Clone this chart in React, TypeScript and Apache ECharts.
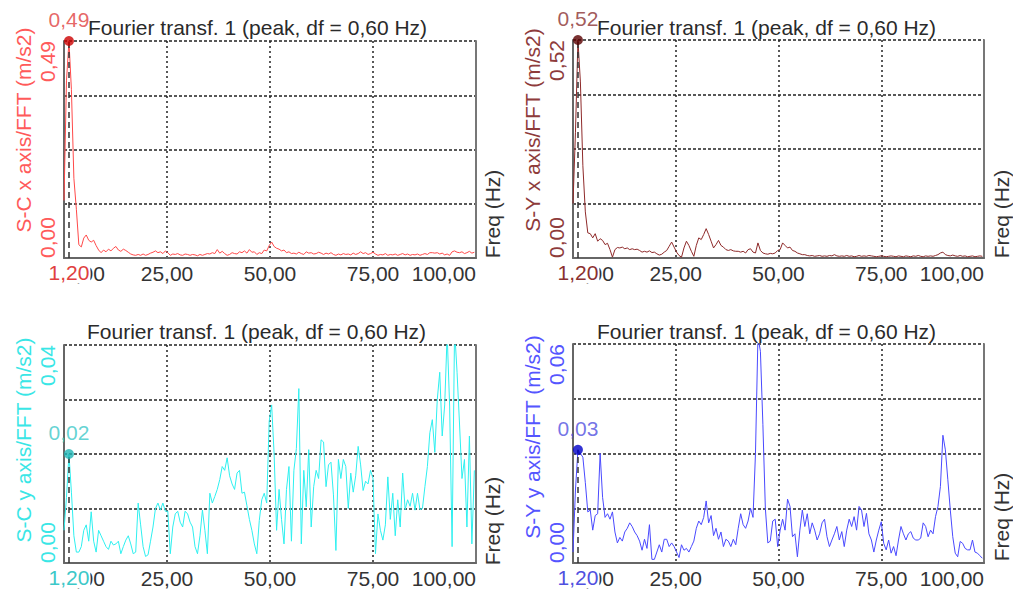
import React, { useEffect, useRef } from "react";
import * as echarts from "echarts";

// ---------- data ----------
const DF = 0.6; // frequency resolution (Hz) – bin k is at k * DF
const X_MIN = 0;
const X_MAX = 100;
const X_INTERVAL = 25;
const TITLE = "Fourier transf. 1 (peak, df = 0,60 Hz)";
const X_NAME = "Freq (Hz)";
const Y_NAMES = [
  "S-C x axis/FFT (m/s2)",
  "S-Y x axis/FFT (m/s2)",
  "S-C y axis/FFT (m/s2)",
  "S-Y y axis/FFT (m/s2)",
];
const Y_MAX = [0.49, 0.52, 0.04, 0.06];
const PEAK_FREQ = [1.2, 1.2, 1.2, 1.2];
const PEAK_VAL = [0.49, 0.52, 0.02, 0.031];

const scX = [
  0.13, 0.40, 0.49, 0.38, 0.18, 0.11, 0.03, 0.025, 0.045, 0.052,
  0.04, 0.036, 0.04, 0.028, 0.018, 0.012, 0.018, 0.014, 0.02, 0.016,
  0.022, 0.026, 0.018, 0.015, 0.02, 0.017, 0.013, 0.009, 0.007, 0.006,
  0.008, 0.006, 0.009, 0.006, 0.008, 0.011, 0.013, 0.016, 0.012, 0.014,
  0.01, 0.016, 0.012, 0.006, 0.009, 0.008, 0.01, 0.007, 0.006, 0.009,
  0.008, 0.006, 0.008, 0.007, 0.005, 0.008, 0.006, 0.008, 0.01, 0.009,
  0.012, 0.01, 0.019, 0.011, 0.015, 0.01, 0.006, 0.008, 0.012, 0.01,
  0.009, 0.014, 0.012, 0.016, 0.011, 0.019, 0.013, 0.014, 0.008, 0.012,
  0.01, 0.018, 0.016, 0.028, 0.036, 0.026, 0.022, 0.02, 0.016, 0.018,
  0.012, 0.014, 0.01, 0.011, 0.009, 0.013, 0.01, 0.008, 0.014, 0.011,
  0.012, 0.009, 0.01, 0.013, 0.011, 0.008, 0.011, 0.009, 0.012, 0.008,
  0.006, 0.009, 0.007, 0.01, 0.008, 0.009, 0.007, 0.011, 0.008, 0.01,
  0.014, 0.01, 0.012, 0.008, 0.01, 0.013, 0.009, 0.006, 0.008, 0.007,
  0.01, 0.006, 0.008, 0.007, 0.009, 0.006, 0.008, 0.01, 0.007, 0.009,
  0.006, 0.008, 0.007, 0.009, 0.006, 0.008, 0.01, 0.008, 0.012, 0.012,
  0.011, 0.012, 0.009, 0.011, 0.007, 0.009, 0.006, 0.014, 0.016, 0.013,
  0.012, 0.014, 0.01, 0.012, 0.015, 0.011, 0.013,
];

const syX = [
  0.13, 0.30, 0.52, 0.42, 0.22, 0.11, 0.06, 0.058, 0.048, 0.058,
  0.04, 0.046, 0.042, 0.032, 0.035, 0.02, 0.002, 0.02, 0.025, 0.024,
  0.026, 0.022, 0.024, 0.02, 0.022, 0.02, 0.021, 0.018, 0.014, 0.016,
  0.014, 0.017, 0.013, 0.014, 0.01, 0.007, 0.009, 0.014, 0.018, 0.028,
  0.038, 0.026, 0.014, 0.006, 0.002, 0.024, 0.04, 0.03, 0.016, 0.004,
  0.03, 0.048, 0.044, 0.056, 0.07, 0.056, 0.04, 0.024, 0.032, 0.042,
  0.03, 0.026, 0.02, 0.018, 0.02, 0.017, 0.016, 0.016, 0.014, 0.016,
  0.012, 0.02, 0.022, 0.014, 0.012, 0.036, 0.018, 0.012, 0.01, 0.009,
  0.011, 0.01, 0.012, 0.018, 0.02, 0.036, 0.03, 0.024, 0.026, 0.018,
  0.016, 0.012, 0.01, 0.008, 0.008, 0.006, 0.005, 0.006, 0.004, 0.005,
  0.006, 0.004, 0.005, 0.004, 0.006, 0.005, 0.008, 0.005, 0.004, 0.005,
  0.004, 0.006, 0.004, 0.005, 0.003, 0.004, 0.006, 0.004, 0.005, 0.004,
  0.006, 0.005, 0.004, 0.003, 0.004, 0.005, 0.004, 0.003, 0.004, 0.005,
  0.004, 0.003, 0.005, 0.004, 0.003, 0.005, 0.004, 0.003, 0.005, 0.004,
  0.006, 0.004, 0.003, 0.005, 0.004, 0.005, 0.004, 0.006, 0.008, 0.012,
  0.014, 0.008, 0.006, 0.005, 0.007, 0.005, 0.004, 0.006, 0.004, 0.005,
  0.003, 0.004, 0.005, 0.003, 0.004, 0.005, 0.004,
];

const scY = [
  0.006, 0.012, 0.02, 0.013, 0.005, 0.002, 0.002, 0.003, 0.006, 0.007,
  0.004, 0.0094, 0.004, 0.002, 0.006, 0.005, 0.004, 0.003, 0.0025, 0.004,
  0.0033, 0.0035, 0.004, 0.0017, 0.003, 0.0042, 0.005, 0.0035, 0.0017, 0.002,
  0.011, 0.007, 0.003, 0.0012, 0.0015, 0.004, 0.0066, 0.01, 0.011, 0.0097,
  0.011, 0.0095, 0.0095, 0.0017, 0.0066, 0.009, 0.0095, 0.0075, 0.0066, 0.0095,
  0.009, 0.0075, 0.0066, 0.003, 0.0017, 0.005, 0.0097, 0.006, 0.0017, 0.0128,
  0.011, 0.0122, 0.0135, 0.0153, 0.0177, 0.017, 0.0193, 0.016, 0.0145, 0.0135,
  0.0165, 0.017, 0.0128, 0.013, 0.0105, 0.008, 0.006, 0.0035, 0.0017, 0.0078,
  0.0116, 0.0128, 0.011, 0.026, 0.029, 0.02, 0.006, 0.0135, 0.008, 0.0035,
  0.0135, 0.0177, 0.004, 0.017, 0.021, 0.032, 0.0035, 0.017, 0.0103, 0.0208,
  0.0066, 0.014, 0.017, 0.0155, 0.0226, 0.0222, 0.014, 0.018, 0.0185, 0.0125,
  0.0023, 0.019, 0.0155, 0.019, 0.0177, 0.01, 0.0165, 0.013, 0.016, 0.0214,
  0.018, 0.0133, 0.015, 0.0145, 0.017, 0.0155, 0.0017, 0.009, 0.006, 0.0042,
  0.007, 0.0158, 0.008, 0.0128, 0.005, 0.0116, 0.0066, 0.0165, 0.0098, 0.0116,
  0.0104, 0.0128, 0.0097, 0.0128, 0.0098, 0.01, 0.014, 0.0177, 0.0239, 0.0263,
  0.0203, 0.03, 0.035, 0.0233, 0.029, 0.042, 0.0288, 0.003, 0.043, 0.035,
  0.0255, 0.0155, 0.019, 0.0066, 0.0233, 0.0035, 0.017,
];

const syY = [
  0.003, 0.02, 0.031, 0.03, 0.029, 0.022, 0.014, 0.0145, 0.009, 0.013,
  0.0135, 0.03, 0.018, 0.0125, 0.0135, 0.012, 0.014, 0.0085, 0.0055, 0.007,
  0.006, 0.0085, 0.0095, 0.011, 0.01, 0.0085, 0.0075, 0.006, 0.0035, 0.0065,
  0.004, 0.0105, 0.001, 0.001, 0.003, 0.005, 0.003, 0.0065, 0.0065, 0.0045,
  0.0055, 0.0045, 0.003, 0.0015, 0.005, 0.0035, 0.004, 0.003, 0.0045, 0.006,
  0.0095, 0.0115, 0.0105, 0.0125, 0.017, 0.011, 0.013, 0.0075, 0.0095, 0.0065,
  0.0085, 0.0045, 0.0065, 0.006, 0.0045, 0.0065, 0.005, 0.0095, 0.0135, 0.0105,
  0.0095, 0.0115, 0.015, 0.0125, 0.03, 0.062, 0.058, 0.038, 0.015, 0.0055,
  0.006, 0.0115, 0.012, 0.0045, 0.009, 0.012, 0.009, 0.0175, 0.0155, 0.0072,
  0.008, 0.0017, 0.009, 0.0145, 0.01, 0.0135, 0.008, 0.011, 0.009, 0.0063,
  0.008, 0.011, 0.012, 0.0072, 0.0045, 0.0063, 0.008, 0.01, 0.0063, 0.0086,
  0.0045, 0.009, 0.012, 0.01, 0.0127, 0.009, 0.0155, 0.0145, 0.01, 0.0136,
  0.008, 0.0063, 0.003, 0.0063, 0.009, 0.0113, 0.0054, 0.0036, 0.0063, 0.0027,
  0.0045, 0.002, 0.0063, 0.01, 0.008, 0.0063, 0.008, 0.0086, 0.0068, 0.0063,
  0.0063, 0.0068, 0.011, 0.01, 0.0072, 0.009, 0.008, 0.0127, 0.0155, 0.021,
  0.035, 0.031, 0.0228, 0.0145, 0.0072, 0.0027, 0.0017, 0.0059, 0.0054, 0.004,
  0.0036, 0.0036, 0.0063, 0.003, 0.0027, 0.002, 0.0013,
];

const SERIES = [scX, syX, scY, syY];

// ---------- layout / style ----------
const FONT = "Liberation Sans, Arial, sans-serif";
const FS = 21;
const PANELS = [
  { left: 64, top: 41, width: 412, height: 217, titleLeft: 88, titleTop: 17, nameX: 23, nameY: 130, freqX: 492, freqY: 214,
    line: "#ff4a4a", label: "#ff5a5a", marker: "#cc0000", peakLabel: "#e04040" },
  { left: 573, top: 40, width: 411, height: 218, titleLeft: 597, titleTop: 17, nameX: 532, nameY: 130, freqX: 1001, freqY: 214,
    line: "#8e2a2a", label: "#8e3b3b", marker: "#5a0000", peakLabel: "#8a3030" },
  { left: 64, top: 345, width: 412, height: 218, titleLeft: 87, titleTop: 321, nameX: 23, nameY: 440, freqX: 492, freqY: 521,
    line: "#2ef0f0", label: "#3ae6e6", marker: "#1fb5b5", peakLabel: "#3cc8c8" },
  { left: 573, top: 344, width: 411, height: 219, titleLeft: 597, titleTop: 321, nameX: 532, nameY: 437, freqX: 1001, freqY: 517,
    line: "#4a4aff", label: "#5555ff", marker: "#0000c8", peakLabel: "#5050e0" },
];

const fmt = (v: number) => v.toFixed(2).replace(".", ",");

function buildOption() {
  const grid: any[] = [];
  const xAxis: any[] = [];
  const yAxis: any[] = [];
  const series: any[] = [];
  const title: any[] = [];
  const graphic: any[] = [];

  PANELS.forEach((p, i) => {
    const max = Y_MAX[i];
    grid.push({ left: p.left, top: p.top, width: p.width, height: p.height, containLabel: false });
    title.push({
      text: TITLE,
      left: p.titleLeft,
      top: p.titleTop,
      padding: 0,
      textStyle: { fontSize: FS, fontWeight: "normal", color: "#2a2a2a", fontFamily: FONT },
    });
    xAxis.push({
      type: "value",
      gridIndex: i,
      min: X_MIN,
      max: X_MAX,
      interval: X_INTERVAL,
      axisLine: { show: true, onZero: false, lineStyle: { color: "#666", width: 2 } },
      axisTick: { show: false },
      splitLine: { show: true, lineStyle: { color: "#222", width: 1.5, type: [2, 3] } },
      axisLabel: {
        show: true,
        color: "#333",
        fontSize: FS,
        fontFamily: FONT,
        margin: 5,
        alignMinLabel: "left",
        alignMaxLabel: "right",
        formatter: (v: number) => fmt(v),
      },
    });
    yAxis.push({
      type: "value",
      gridIndex: i,
      min: 0,
      max: max,
      interval: max / 4,
      axisLine: { show: true, lineStyle: { color: "#666", width: 2 } },
      axisTick: { show: false },
      splitLine: { show: true, lineStyle: { color: "#222", width: 1.5, type: [3, 2] } },
      axisLabel: {
        show: true,
        rotate: 90,
        color: p.label,
        fontSize: FS,
        fontFamily: FONT,
        margin: 6,
        alignMinLabel: "left",
        alignMaxLabel: "right",
        formatter: (v: number) =>
          Math.abs(v) < 1e-12 || Math.abs(v - max) < max * 1e-6 ? fmt(v) : "",
      },
    });
    yAxis.push({
      type: "value",
      gridIndex: i,
      position: "right",
      min: 0,
      max: max,
      interval: max / 4,
      axisLine: { show: true, lineStyle: { color: "#777", width: 2 } },
      axisTick: { show: false },
      axisLabel: { show: false },
      splitLine: { show: false },
    });
    series.push({
      type: "line",
      xAxisIndex: i,
      yAxisIndex: 2 * i,
      data: SERIES[i].map((v, k) => [k * DF, v]),
      showSymbol: false,
      symbol: "none",
      clip: true,
      lineStyle: { color: p.line, width: 1 },
      z: 3,
    });
    series.push({
      type: "scatter",
      xAxisIndex: i,
      yAxisIndex: 2 * i,
      data: [[PEAK_FREQ[i], PEAK_VAL[i]]],
      symbolSize: 10,
      clip: false,
      itemStyle: { color: p.marker },
      label: {
        show: true,
        position: "top",
        distance: 6,
        formatter: () => fmt(PEAK_VAL[i]),
        color: p.peakLabel,
        fontSize: FS,
        fontFamily: FONT,
      },
      markLine: {
        silent: true,
        symbol: ["none", "none"],
        lineStyle: { color: "#333", width: 1.5, type: [6, 4] },
        label: {
          show: true,
          position: "start",
          distance: 4,
          formatter: () => fmt(PEAK_FREQ[i]),
          color: p.peakLabel,
          fontSize: FS,
          fontFamily: FONT,
          backgroundColor: "#fff",
          padding: [0, 1],
        },
        data: [[{ coord: [PEAK_FREQ[i], 0] }, { coord: [PEAK_FREQ[i], PEAK_VAL[i]] }]],
      },
      z: 5,
    });
    graphic.push({
      type: "text",
      x: p.nameX,
      y: p.nameY,
      rotation: Math.PI / 2,
      style: { text: Y_NAMES[i], fill: p.label, font: `${FS}px ${FONT}`, textAlign: "center", textVerticalAlign: "middle" },
    });
    graphic.push({
      type: "text",
      x: p.freqX,
      y: p.freqY,
      rotation: Math.PI / 2,
      style: { text: X_NAME, fill: "#333", font: `${FS}px ${FONT}`, textAlign: "center", textVerticalAlign: "middle" },
    });
  });

  return {
    animation: false,
    backgroundColor: "#ffffff",
    textStyle: { fontFamily: FONT },
    title,
    grid,
    xAxis,
    yAxis,
    series,
    graphic,
  };
}

export default function App() {
  const ref = useRef<HTMLDivElement>(null);
  useEffect(() => {
    if (!ref.current) return;
    const chart = echarts.init(ref.current, null, { renderer: "svg" });
    chart.setOption(buildOption() as any);
    return () => chart.dispose();
  }, []);
  return (
    <div
      ref={ref}
      style={{ position: "fixed", left: 0, top: 0, width: 1013, height: 596, background: "#fff" }}
    />
  );
}
